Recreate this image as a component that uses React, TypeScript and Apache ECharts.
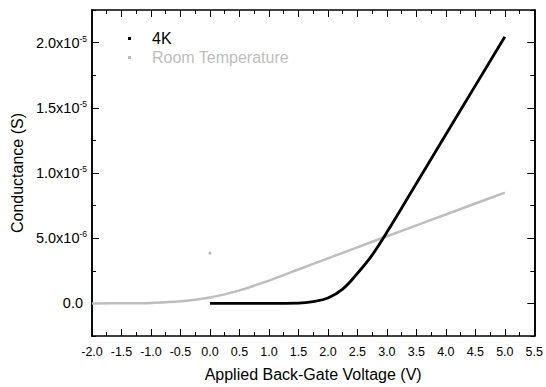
import React, { useEffect, useRef } from "react";
import * as echarts from "echarts";

const fourKVoltage = [0, 0.5, 1.0, 1.5, 1.75, 2.0, 2.25, 2.5, 2.75, 3.0, 3.5, 4.0, 4.5, 5.0];
const fourKConductance = [0, 0, 0, 0.02e-6, 0.14e-6, 0.42e-6, 1.1e-6, 2.3e-6, 3.7e-6, 5.45e-6, 9.2e-6, 12.95e-6, 16.7e-6, 20.45e-6];

const roomVoltage = [-2.0, -1.5, -1.0, -0.5, 0, 0.5, 1.0, 1.5, 2.0, 2.5, 3.0, 3.5, 4.0, 4.5, 5.0];
const roomConductance = [0, 0.01e-6, 0.04e-6, 0.16e-6, 0.45e-6, 1.0e-6, 1.75e-6, 2.6e-6, 3.45e-6, 4.3e-6, 5.15e-6, 5.98e-6, 6.82e-6, 7.66e-6, 8.5e-6];

const roomOutlier = [[0.0, 3.85e-6]];

const yMajorTicks = [0, 5e-6, 1e-5, 1.5e-5, 2e-5];
const yTickMantissa = ["0.0", "5.0", "1.0", "1.5", "2.0"];
const yTickExponent = ["", "-6", "-5", "-5", "-5"];

const seriesNames = ["4K", "Room Temperature"];
const seriesColors = ["#000000", "#bdbdbd"];

const FONT = "Liberation Sans, Arial, sans-serif";

export default function App() {
  const ref = useRef<HTMLDivElement>(null);
  useEffect(() => {
    if (!ref.current) return;
    const chart = echarts.init(ref.current, undefined, { renderer: "svg" });
    const yMin = -2.5e-6;
    const yMax = 2.25e-5;
    const axisLine = { show: true, onZero: false, lineStyle: { color: "#000", width: 1.6 } };
    const yLabelFormatter = (v: number) => {
      const idx = yMajorTicks.findIndex((t) => Math.abs(t - v) < 1e-9);
      if (idx < 0) return "";
      if (!yTickExponent[idx]) return `{z|${yTickMantissa[idx]}}`;
      return `{m|${yTickMantissa[idx]}x10}{s|${yTickExponent[idx]}}`;
    };
    const xCommon = {
      type: "value" as const,
      min: -2,
      max: 5.5,
      interval: 0.5,
      axisLine,
      splitLine: { show: false },
      minorTick: { show: true, splitNumber: 2, length: 4, lineStyle: { color: "#000", width: 1 } },
      axisTick: { show: true, inside: true, length: 7, lineStyle: { color: "#000", width: 1 } },
    };
    const yCommon = {
      type: "value" as const,
      min: yMin,
      max: yMax,
      interval: 2.5e-6,
      axisLine,
      splitLine: { show: false },
    };
    chart.setOption({
      animation: false,
      textStyle: { fontFamily: FONT },
      grid: { left: 92, top: 10, right: 10, bottom: 50 },
      xAxis: [
        {
          ...xCommon,
          position: "bottom",
          name: "Applied Back-Gate Voltage (V)",
          nameLocation: "middle",
          nameGap: 30,
          nameTextStyle: { fontSize: 16, color: "#000", fontFamily: FONT },
          axisLabel: {
            color: "#000",
            fontSize: 12.5,
            margin: 9,
            fontFamily: FONT,
            formatter: (v: number) => v.toFixed(1),
          },
        },
        {
          ...xCommon,
          position: "top",
          axisLabel: { show: false },
        },
      ],
      yAxis: [
        {
          ...yCommon,
          position: "left",
          name: "Conductance (S)",
          nameLocation: "middle",
          nameGap: 51,
          nameTextStyle: { fontSize: 16, color: "#000", fontFamily: FONT },
          axisTick: { show: true, inside: true, length: 4, lineStyle: { color: "#000", width: 1 } },
          axisLabel: {
            color: "#000",
            margin: 5,
            formatter: yLabelFormatter,
            rich: {
              m: { fontSize: 14.5, color: "#000", fontFamily: FONT },
              z: { fontSize: 14.5, color: "#000", fontFamily: FONT, padding: [0, 4, 0, 0] },
              s: { fontSize: 8.5, color: "#000", fontFamily: FONT, padding: [0, 0, 8, 0] },
            },
          },
        },
        {
          ...yCommon,
          position: "left",
          axisTick: { show: true, inside: true, length: 7, customValues: yMajorTicks, lineStyle: { color: "#000", width: 1 } },
          axisLabel: { show: false },
        },
        {
          ...yCommon,
          position: "right",
          axisTick: { show: true, inside: true, length: 4, lineStyle: { color: "#000", width: 1 } },
          axisLabel: { show: false },
        },
        {
          ...yCommon,
          position: "right",
          axisTick: { show: true, inside: true, length: 7, customValues: yMajorTicks, lineStyle: { color: "#000", width: 1 } },
          axisLabel: { show: false },
        },
      ],
      graphic: [
        { type: "rect", left: 128, top: 37, shape: { width: 3, height: 3 }, style: { fill: seriesColors[0] } },
        { type: "text", left: 152, top: 30, style: { text: seriesNames[0], fill: seriesColors[0], font: `16px ${FONT}` } },
        { type: "rect", left: 128, top: 56, shape: { width: 3, height: 3 }, style: { fill: seriesColors[1] } },
        { type: "text", left: 152, top: 49, style: { text: seriesNames[1], fill: seriesColors[1], font: `16px ${FONT}` } },
      ],
      series: [
        {
          name: seriesNames[1],
          type: "line",
          xAxisIndex: 0,
          yAxisIndex: 0,
          data: roomVoltage.map((v, i) => [v, roomConductance[i]]),
          smooth: 0.4,
          showSymbol: false,
          lineStyle: { color: seriesColors[1], width: 2.5 },
        },
        {
          name: seriesNames[1] + " outlier",
          type: "scatter",
          xAxisIndex: 0,
          yAxisIndex: 0,
          data: roomOutlier,
          symbol: "rect",
          symbolSize: 2.5,
          itemStyle: { color: "#9e9e9e" },
        },
        {
          name: seriesNames[0],
          type: "line",
          xAxisIndex: 0,
          yAxisIndex: 0,
          data: fourKVoltage.map((v, i) => [v, fourKConductance[i]]),
          smooth: 0.4,
          showSymbol: false,
          lineStyle: { color: seriesColors[0], width: 2.8 },
        },
      ],
    });
    return () => chart.dispose();
  }, []);
  return <div ref={ref} style={{ position: "absolute", left: 0, top: 0, width: 546, height: 387 }} />;
}
